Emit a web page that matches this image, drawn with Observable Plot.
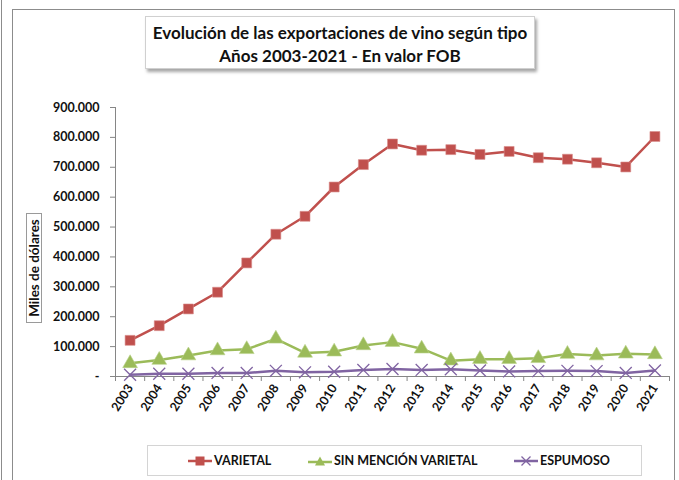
<!DOCTYPE html>
<html><head><meta charset="utf-8">
<script src="https://cdn.jsdelivr.net/npm/d3@7"></script>
<script src="https://cdn.jsdelivr.net/npm/@observablehq/plot@0.6"></script>
<style>
body{margin:0;background:#fff;font-family:Lato,"Open Sans",sans-serif;}
#wrap{position:relative;width:679px;height:480px;overflow:hidden;}
.frame{position:absolute;left:12px;top:9px;width:661px;height:480px;border:1px solid #8c8c8c;}
.leftline{position:absolute;left:1px;top:0;width:1px;height:480px;background:#8c8c8c;}
.title{position:absolute;left:145px;top:16px;width:390px;height:53px;border:1px solid #d0d0d0;background:#fff;
 box-shadow:2px 3px 3px rgba(0,0,0,0.35);text-align:center;font-weight:bold;font-size:17px;line-height:23px;padding-top:4px;box-sizing:border-box;color:#111;}
.ylab{position:absolute;left:26px;top:213px;width:14px;height:108px;border:1px solid #9a9a9a;background:#fff;}
.ylab span{position:absolute;left:50%;top:50%;transform:translate(-50%,-50%) rotate(-90deg);white-space:nowrap;font-weight:bold;font-size:13.5px;color:#111;}
.legend{position:absolute;left:147px;top:445px;width:495px;height:31px;border:1px solid #d4d4d4;background:#fff;box-sizing:border-box;}
.legend .it{position:absolute;top:7px;font-weight:bold;font-size:12.5px;color:#111;display:flex;align-items:center;}
svg.plot{position:absolute;left:0;top:0;}
</style></head>
<body><div id="wrap"><div class="leftline"></div><div class="frame"></div></div>
<script>
const years = [2003,2004,2005,2006,2007,2008,2009,2010,2011,2012,2013,2014,2015,2016,2017,2018,2019,2020,2021];
const varietal = [121000,170000,226000,282000,380000,476000,536000,634000,709000,778000,757000,759000,743000,753000,732000,727000,715000,701000,803000];
const sinMencion = [44000,55000,70000,87000,91000,126000,79000,83000,104000,115000,93000,53000,58000,58000,61000,75000,70000,76000,74000];
const espumoso = [6000,9000,9000,12000,12000,19000,14000,16000,22000,25000,22000,24000,20000,17000,18000,19000,18000,12000,20000];
const seriesNames = ["VARIETAL","SIN MENCIÓN VARIETAL","ESPUMOSO"];
const colors = ["#C0504D","#9BBB59","#8064A2"];
const yTicks = [0,100000,200000,300000,400000,500000,600000,700000,800000,900000];

const rows = [];
[varietal, sinMencion, espumoso].forEach((arr, i) => arr.forEach((v, j) => rows.push({serie: seriesNames[i], year: years[j], value: v})));
const bounds = [years[0]-0.5, ...years.map(y => y+0.5)];
const fmt = v => v === 0 ? "-" : d3.format(",.0f")(v).replace(/,/g, ".");
const axisColor = "#868686";

const chart = Plot.plot({
  width: 679, height: 480,
  marginLeft: 115, marginRight: 10, marginTop: 107, marginBottom: 104,
  style: {fontFamily: "Lato, 'Open Sans', sans-serif", background: "transparent", color: "#111"},
  x: {domain: [years[0]-0.5, years[years.length-1]+0.5]},
  y: {domain: [0, 900000]},
  color: {domain: seriesNames, range: colors},
  marks: [
    Plot.ruleX([bounds[0]], {y1: 0, y2: 900000, stroke: axisColor}),
    Plot.ruleY([0], {stroke: axisColor}),
    Plot.axisY({ticks: yTicks, tickFormat: fmt, tickSize: 5, tickPadding: 11, stroke: axisColor, fontSize: 12.5, fontWeight: "bold", label: null}),
    Plot.axisX({ticks: bounds, tickFormat: () => "", tickSize: 5, stroke: axisColor, label: null}),
    Plot.axisX({ticks: years, tickFormat: d => String(d), tickSize: 0, tickRotate: -58, tickPadding: 9, fontSize: 12.5, fontWeight: "bold", label: null, textAnchor: "end"}),
    Plot.line(rows, {x: "year", y: "value", z: "serie", stroke: "serie", strokeWidth: 2.5}),
    Plot.dot(rows.filter(d => d.serie === seriesNames[0]), {x: "year", y: "value", symbol: "square", r: 5.6, fill: colors[0], stroke: "#d98c8a", strokeWidth: 0.6}),
    Plot.dot(rows.filter(d => d.serie === seriesNames[1]), {x: "year", y: "value", symbol: "triangle", r: 5.5, fill: colors[1], stroke: "#b9d18a", strokeWidth: 0.6}),
    Plot.dot(rows.filter(d => d.serie === seriesNames[2]), {x: "year", y: "value", symbol: "times", r: 5.5, stroke: colors[2], strokeWidth: 1.3})
  ]
});
const wrap = document.getElementById("wrap");
wrap.appendChild(chart);

const title = document.createElement("div");
title.className = "title";
title.innerHTML = "Evolución de las exportaciones de vino según tipo<br>Años 2003-2021 - En valor FOB";
wrap.appendChild(title);

const ylab = document.createElement("div");
ylab.className = "ylab";
ylab.innerHTML = "<span>Miles de dólares</span>";
wrap.appendChild(ylab);

const legend = document.createElement("div");
legend.className = "legend";
const legendX = [40, 160, 366];
const markSvg = [
  '<svg width="24" height="12"><line x1="0" y1="6" x2="24" y2="6" stroke="#C0504D" stroke-width="2.5"/><rect x="7.5" y="1.5" width="9" height="9" fill="#C0504D"/></svg>',
  '<svg width="24" height="12"><line x1="0" y1="7" x2="24" y2="7" stroke="#9BBB59" stroke-width="2.5"/><path d="M12 1.5 L17 10.5 L7 10.5 Z" fill="#9BBB59"/></svg>',
  '<svg width="24" height="12"><line x1="0" y1="6" x2="24" y2="6" stroke="#8064A2" stroke-width="2.5"/><path d="M7.5 1.5 L16.5 10.5 M16.5 1.5 L7.5 10.5" stroke="#8064A2" stroke-width="1.3"/></svg>'
];
seriesNames.forEach((n, i) => {
  const it = document.createElement("div");
  it.className = "it";
  it.style.left = legendX[i] + "px";
  it.innerHTML = markSvg[i] + '<span style="margin-left:2px">' + n + '</span>';
  legend.appendChild(it);
});
wrap.appendChild(legend);
</script></body></html>
